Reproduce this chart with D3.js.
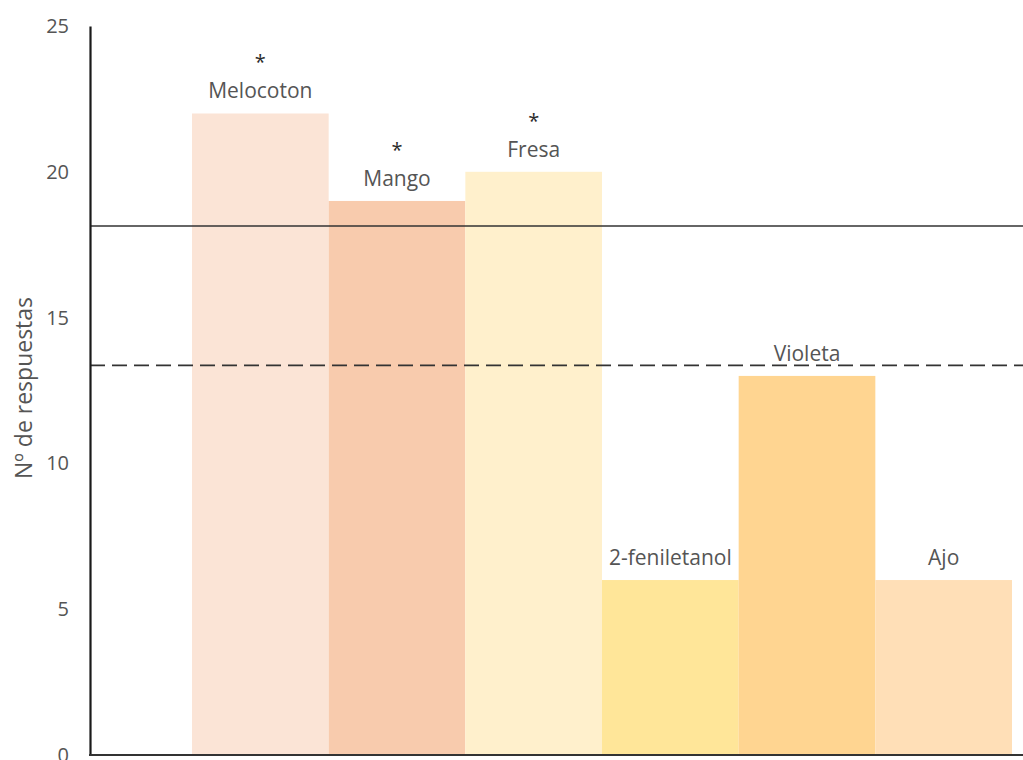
<!DOCTYPE html>
<html>
<head>
<meta charset="utf-8">
<script src="https://cdn.jsdelivr.net/npm/d3@7"></script>
<style>
  html, body { margin: 0; padding: 0; background: #fff; }
  svg { display: block; }
</style>
</head>
<body>
<svg id="chart" width="1023" height="760"></svg>
<script>
// Aromas evaluados y número de respuestas
const categories = ["Melocoton", "Mango", "Fresa", "2-feniletanol", "Violeta", "Ajo"];
const values = [22, 19, 20, 6, 13, 6];
const significant = [true, true, true, false, false, false];
const barColors = ["#FBE4D6", "#F8CBAD", "#FFF0CC", "#FFE699", "#FFD591", "#FFDFB7"];
const yTicks = [0, 5, 10, 15, 20, 25];
const thresholdSolid = 18.14;
const thresholdDashed = 13.36;
const yTitle = "Nº de respuestas";

const svg = d3.select("#chart");
const font = "'Open Sans', 'Liberation Sans', sans-serif";
const textColor = "#555555";

const axisX = 90;
const y = d3.scaleLinear().domain([0, 25]).range([755, 26]);
const x = d3.scaleBand().domain(categories).range([192, 1012]).paddingInner(0).paddingOuter(0);

// Barras
svg.append("g").selectAll("rect")
  .data(categories)
  .join("rect")
  .attr("x", d => x(d))
  .attr("y", (d, i) => y(values[i]))
  .attr("width", x.bandwidth())
  .attr("height", (d, i) => y(0) - y(values[i]))
  .attr("fill", (d, i) => barColors[i]);

// Líneas de referencia
svg.append("line")
  .attr("x1", axisX).attr("x2", 1023)
  .attr("y1", y(thresholdSolid)).attr("y2", y(thresholdSolid))
  .attr("stroke", "#333").attr("stroke-width", 1.6);
svg.append("line")
  .attr("x1", axisX).attr("x2", 1023)
  .attr("y1", y(thresholdDashed)).attr("y2", y(thresholdDashed))
  .attr("stroke", "#333").attr("stroke-width", 1.8)
  .attr("stroke-dasharray", "15,7");

// Eje Y
const yAxis = d3.axisLeft(y).tickValues(yTicks).tickSize(0).tickPadding(21).tickFormat(d3.format("d"));
const gy = svg.append("g").attr("transform", `translate(${axisX},0)`).call(yAxis);
gy.select(".domain").attr("stroke", "#1a1a1a").attr("stroke-width", 2.2);
gy.selectAll("text").attr("font-family", font).attr("font-size", 20).attr("fill", textColor);

// Eje X (línea base)
svg.append("line")
  .attr("x1", axisX - 1).attr("x2", 1023)
  .attr("y1", y(0)).attr("y2", y(0))
  .attr("stroke", "#333").attr("stroke-width", 2.2);

// Título del eje Y
svg.append("text")
  .attr("transform", `translate(32,${388}) rotate(-90)`)
  .attr("text-anchor", "middle")
  .attr("font-family", font).attr("font-size", 23)
  .attr("fill", textColor)
  .text(yTitle);

// Etiquetas de las barras
svg.append("g").selectAll("text")
  .data(categories)
  .join("text")
  .attr("x", d => x(d) + x.bandwidth() / 2)
  .attr("y", (d, i) => y(values[i]) - 15)
  .attr("text-anchor", "middle")
  .attr("font-family", font).attr("font-size", 21)
  .attr("fill", textColor)
  .text(d => d);

// Asteriscos de significación
svg.append("g").selectAll("text")
  .data(categories.filter((d, i) => significant[i]))
  .join("text")
  .attr("x", d => x(d) + x.bandwidth() / 2)
  .attr("y", d => y(values[categories.indexOf(d)]) - 44)
  .attr("text-anchor", "middle")
  .attr("font-family", font).attr("font-size", 20)
  .attr("fill", "#2b2b2b")
  .text("*");
</script>
</body>
</html>
